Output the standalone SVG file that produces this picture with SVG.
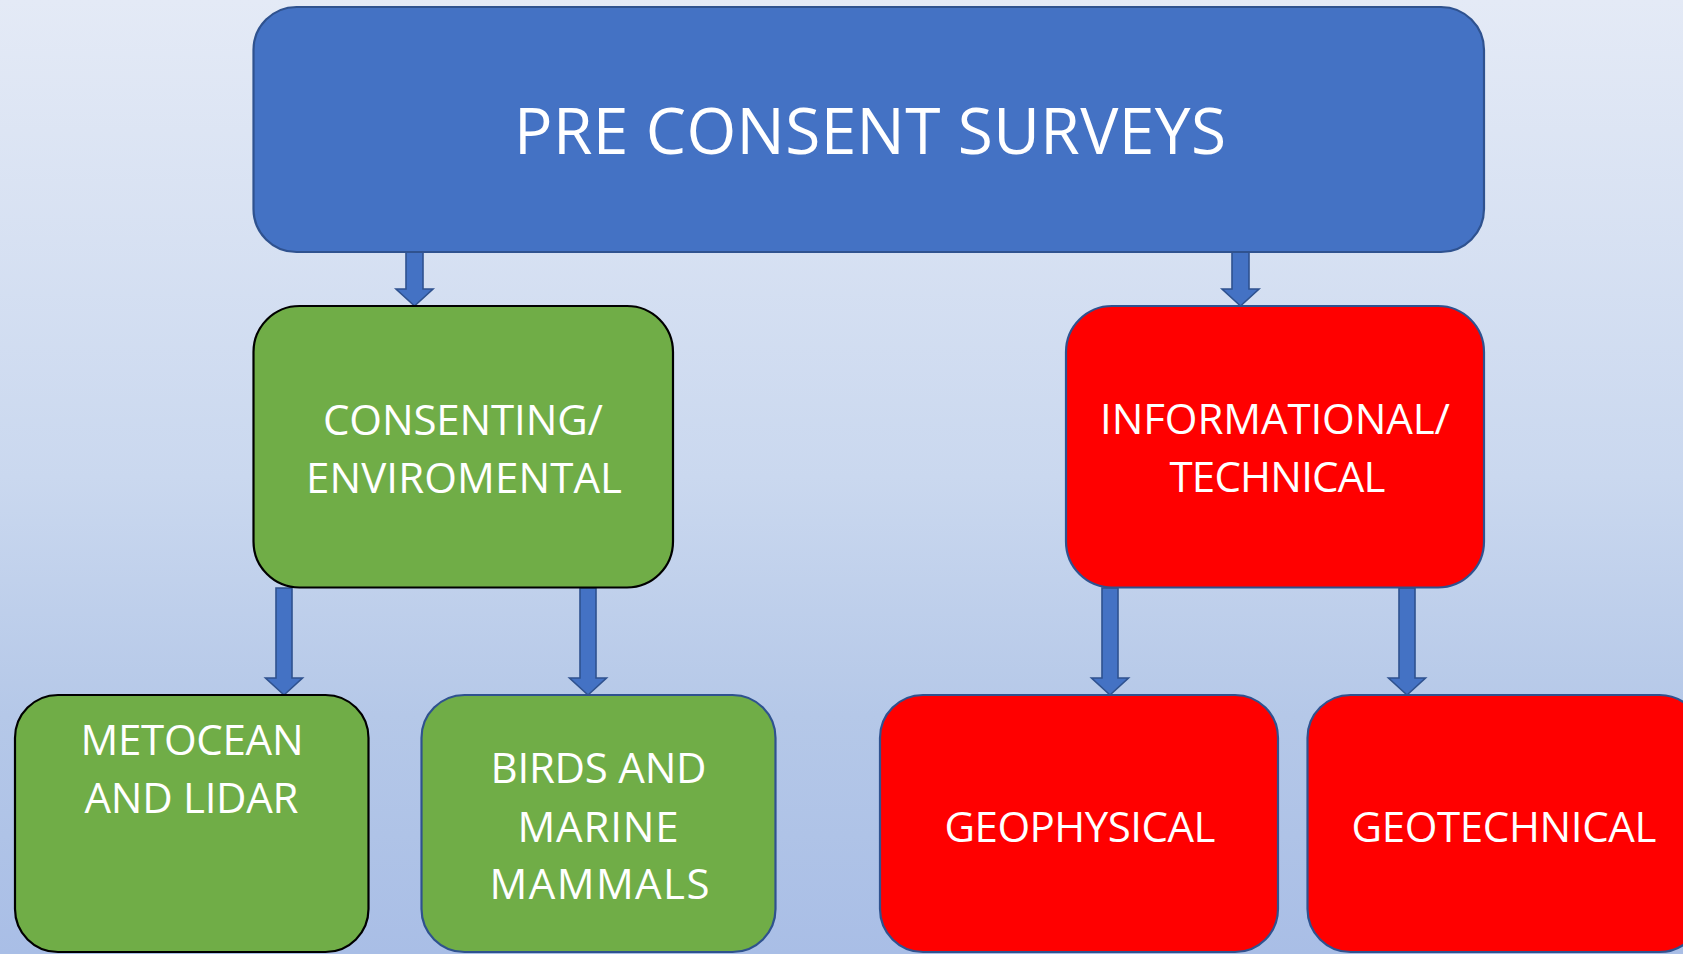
<svg xmlns="http://www.w3.org/2000/svg" width="1683" height="954" viewBox="0 0 1683 954">
  <defs>
    <linearGradient id="bg" x1="0" y1="0" x2="0" y2="1">
      <stop offset="0" stop-color="#e4eaf6"/>
      <stop offset="0.5" stop-color="#cad8ef"/>
      <stop offset="0.75" stop-color="#b5c8e8"/>
      <stop offset="1" stop-color="#a9bee6"/>
    </linearGradient>
    <style>
      .box { stroke-width: 2.2; }
      .blue { fill: #4472c4; stroke: #2f528f; }
      .green { fill: #70ad47; }
      .red { fill: #ff0000; stroke: #2f528f; }
      .edge-dark { stroke: #000000; }
      .edge-blue { stroke: #2f528f; }
      .arrow { fill: #4472c4; stroke: #2f528f; stroke-width: 1.6; stroke-linejoin: miter; }
      text { font-family: "Open Sans", "Noto Sans", "DejaVu Sans", sans-serif; fill: #ffffff; text-anchor: middle; }
      .t-main { font-size: 64px; }
      .t-sub { font-size: 42px; }
    </style>
  </defs>

  <!-- background -->
  <rect x="0" y="0" width="1683" height="954" fill="url(#bg)"/>

  <!-- block arrows between the boxes -->
  <g id="connectors">
    <path class="arrow" d="M406 252 H423 V289 H433 L414.5 306 L396 289 H406 Z"/>
    <path class="arrow" d="M1232 252 H1249 V289 H1259 L1240.5 306 L1222 289 H1232 Z"/>
    <path class="arrow" d="M276 588 H292 V678 H302.5 L284 695 L265.5 678 H276 Z"/>
    <path class="arrow" d="M580 588 H596 V678 H606.5 L588 695 L569.5 678 H580 Z"/>
    <path class="arrow" d="M1102 588 H1118 V678 H1128.5 L1110 695 L1091.5 678 H1102 Z"/>
    <path class="arrow" d="M1399 588 H1415 V678 H1425.5 L1407 695 L1388.5 678 H1399 Z"/>
  </g>

  <g id="pre-consent-surveys">
    <rect class="box blue" x="253.5" y="7" width="1230.5" height="245" rx="43" ry="43"/>
    <text class="t-main" x="870" y="154" textLength="712">PRE CONSENT SURVEYS</text>
  </g>

  <g id="consenting-enviromental">
    <rect class="box green edge-dark" x="253.5" y="306" width="419.5" height="281.5" rx="46" ry="46"/>
    <text class="t-sub" x="463" y="434.5" textLength="280">CONSENTING/</text>
    <text class="t-sub" x="464" y="492.5" textLength="316">ENVIROMENTAL</text>
  </g>

  <g id="informational-technical">
    <rect class="box red" x="1066" y="306" width="418" height="281.5" rx="46" ry="46"/>
    <text class="t-sub" x="1275" y="433.5" textLength="350">INFORMATIONAL/</text>
    <text class="t-sub" x="1277.5" y="491.5" textLength="216">TECHNICAL</text>
  </g>

  <g id="metocean-lidar">
    <rect class="box green edge-dark" x="15" y="695" width="353.5" height="257" rx="43" ry="43"/>
    <text class="t-sub" x="192" y="755" textLength="223">METOCEAN</text>
    <text class="t-sub" x="191.5" y="813" textLength="214">AND LIDAR</text>
  </g>

  <g id="birds-marine-mammals">
    <rect class="box green edge-blue" x="421.5" y="695" width="354" height="257" rx="43" ry="43"/>
    <text class="t-sub" x="598.5" y="783" textLength="216">BIRDS AND</text>
    <text class="t-sub" x="598" y="842" textLength="161">MARINE</text>
    <text class="t-sub" x="599.5" y="898.5" textLength="220">MAMMALS</text>
  </g>

  <g id="geophysical">
    <rect class="box red" x="880" y="695" width="398" height="257" rx="43" ry="43"/>
    <text class="t-sub" x="1080" y="842" textLength="271">GEOPHYSICAL</text>
  </g>

  <g id="geotechnical">
    <rect class="box red" x="1307.5" y="695" width="395" height="257" rx="43" ry="43"/>
    <text class="t-sub" x="1504" y="842" textLength="305">GEOTECHNICAL</text>
  </g>
</svg>
